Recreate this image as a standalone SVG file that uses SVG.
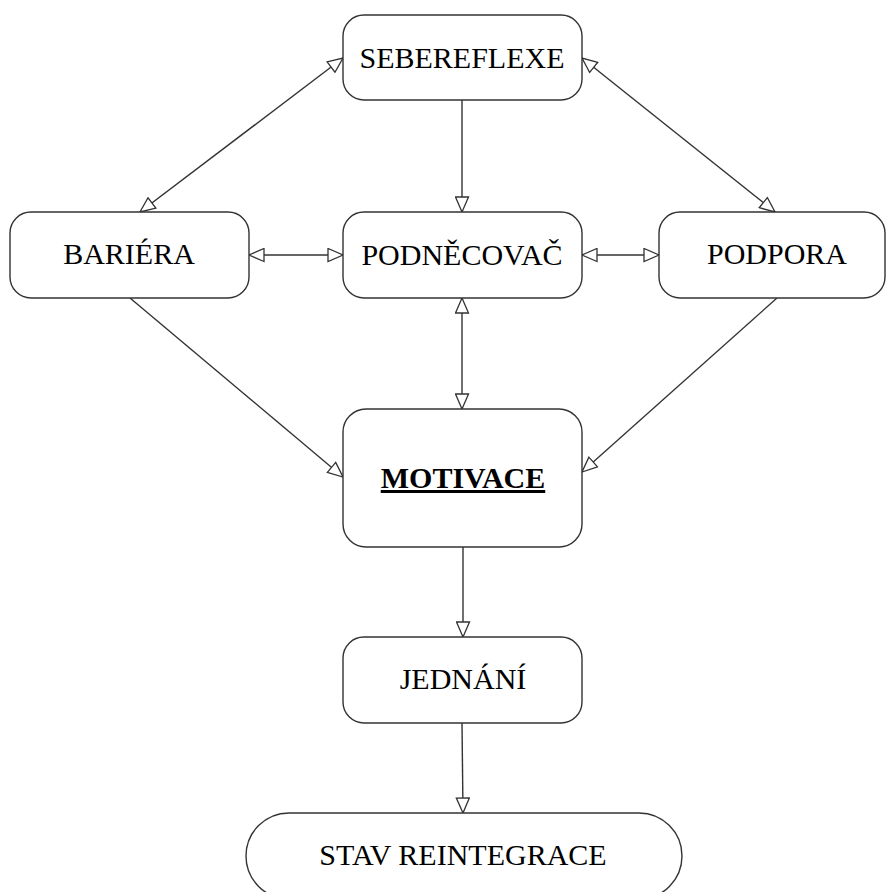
<svg xmlns="http://www.w3.org/2000/svg" width="886" height="892" viewBox="0 0 886 892">
<style>
.box{fill:#fff;stroke:#333;stroke-width:1.4}
.lbl{font-family:"Liberation Serif","Times New Roman",serif;font-size:30px;fill:#000;text-anchor:middle}
.bold{font-weight:bold;text-decoration:underline}
.edge{stroke:#333;stroke-width:1.4;fill:none}
</style>
<defs>
<marker id="arr" viewBox="0 0 17 15" markerWidth="17" markerHeight="15" refX="16" refY="7.5" orient="auto-start-reverse" markerUnits="userSpaceOnUse">
<path d="M1,1 L16,7.5 L1,14 Z" fill="#fff" stroke="#333" stroke-width="1.3"/>
</marker>
</defs>
<rect width="886" height="892" fill="#fff"/>
<g id="connectors">
<line class="edge" x1="343" y1="58" x2="140" y2="212" marker-start="url(#arr)" marker-end="url(#arr)"/>
<line class="edge" x1="582" y1="58" x2="775" y2="212" marker-start="url(#arr)" marker-end="url(#arr)"/>
<line class="edge" x1="462" y1="100" x2="462" y2="212" marker-end="url(#arr)"/>
<line class="edge" x1="249" y1="255" x2="343" y2="255" marker-start="url(#arr)" marker-end="url(#arr)"/>
<line class="edge" x1="582" y1="255" x2="659" y2="255" marker-start="url(#arr)" marker-end="url(#arr)"/>
<line class="edge" x1="462" y1="298" x2="462" y2="409" marker-start="url(#arr)" marker-end="url(#arr)"/>
<line class="edge" x1="130" y1="298" x2="343" y2="477" marker-end="url(#arr)"/>
<line class="edge" x1="777" y1="298" x2="582" y2="472" marker-end="url(#arr)"/>
<line class="edge" x1="463" y1="547" x2="463" y2="637" marker-end="url(#arr)"/>
<line class="edge" x1="462" y1="723" x2="463" y2="813" marker-end="url(#arr)"/>
</g>
<g id="sebereflexe">
<rect class="box" x="343" y="15" width="239" height="85" rx="21"/>
<text class="lbl" x="462" y="68">SEBEREFLEXE</text>
</g>
<g id="bariera">
<rect class="box" x="10" y="212" width="239" height="86" rx="21"/>
<text class="lbl" x="129" y="264">BARIÉRA</text>
</g>
<g id="podnecovac">
<rect class="box" x="343" y="212" width="239" height="86" rx="21"/>
<text class="lbl" x="462" y="265">PODNĚCOVAČ</text>
</g>
<g id="podpora">
<rect class="box" x="659" y="212" width="226" height="86" rx="21"/>
<text class="lbl" x="777" y="264">PODPORA</text>
</g>
<g id="motivace">
<rect class="box" x="343" y="409" width="239" height="138" rx="23"/>
<text class="lbl bold" x="463" y="488">MOTIVACE</text>
</g>
<g id="jednani">
<rect class="box" x="343" y="637" width="239" height="86" rx="21"/>
<text class="lbl" x="463" y="689">JEDNÁNÍ</text>
</g>
<g id="stav-reintegrace">
<rect class="box" x="246" y="813" width="436" height="86" rx="43"/>
<text class="lbl" x="463" y="865">STAV REINTEGRACE</text>
</g>
</svg>
